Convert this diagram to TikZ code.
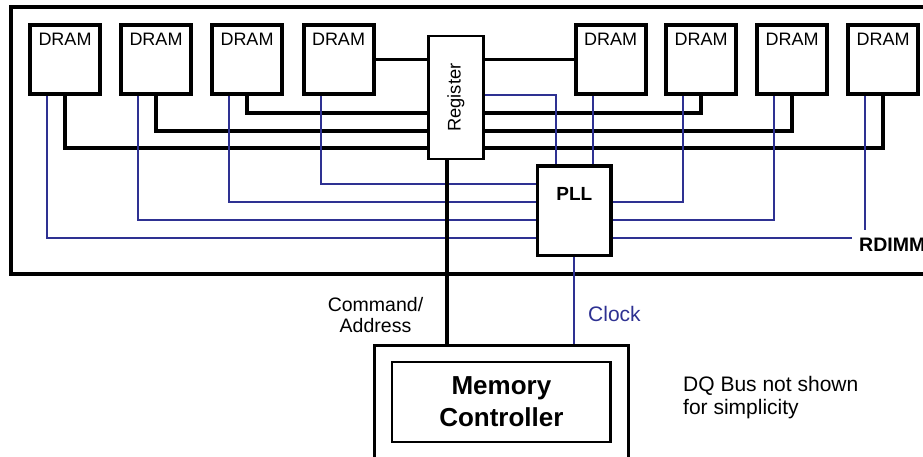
\documentclass[tikz,border=0pt]{standalone}
\usepackage{fontspec}
\setmainfont{Liberation Sans}
\usepackage{graphicx}
\usepackage{tikz}
\definecolor{clkblue}{HTML}{2E3192}

\begin{document}
\begin{tikzpicture}[x=1pt,y=-1pt,
  dram/.style={draw,line width=4pt,minimum width=70pt,inner xsep=0pt,inner ysep=7.6pt,
    text height=13pt,text depth=41.4pt,font=\fontsize{18}{20}\selectfont},
  bus/.style={line width=3.5pt},
  clk/.style={clkblue,line width=2pt}]
\useasboundingbox (0,0) rectangle (923,456);
\clip (0,0) rectangle (923,456);
% module outline
\draw[line width=4pt] (11.3,6.5) rectangle (940,274);
% signal rows
\coordinate (ra) at (0,113);
\coordinate (rb) at (0,131);
\coordinate (rc) at (0,148);
\coordinate (ka) at (0,184);
\coordinate (kb) at (0,202);
\coordinate (kc) at (0,220);
\coordinate (kd) at (0,237.5);
\foreach \i/\x in {1/65,2/156,3/247,4/338.5,5/610.5,6/701,7/792,8/883} {
  \node[dram] (d\i) at (\x,59.5) {DRAM};
  \coordinate (k\i) at ([xshift=-18pt]d\i.south);
}
\node[draw,line width=2.5pt,minimum width=54.7pt,minimum height=122.8pt,inner sep=0pt,
  font=\fontsize{18.3}{20}\selectfont] (reg) at (456,97.6) {\rotatebox{90}{Register}};
\node[draw,line width=3.3pt,minimum width=73.3pt,inner ysep=8pt,text height=27pt,text depth=46.7pt,
  font=\fontsize{19}{21}\selectfont\bfseries] (pll) at (574.3,210.8) {PLL};
\node[anchor=base west,inner sep=7pt,font=\fontsize{19.5}{21}\selectfont\bfseries] (rdimm) at (852,251) {RDIMM};
% command/address fan-out
\draw[bus] (d4.east) -- (reg.west |- d4.east);
\draw[bus] (reg.east |- d5.west) -- (d5.west);
\foreach \d/\r in {3/ra,2/rb,1/rc} \draw[bus] (d\d.south) |- (reg.west |- \r);
\foreach \d/\r in {6/ra,7/rb,8/rc} \draw[bus] (reg.east |- \r) -| (d\d.south);
% clock fan-out
\foreach \d/\r in {4/ka,3/kb,2/kc,1/kd} \draw[clk] (k\d) |- (pll.west |- \r);
\foreach \d/\r in {6/kb,7/kc} \draw[clk] (pll.east |- \r) -| (k\d);
\draw[clk] ([yshift=2.5pt]reg.east) -| ([xshift=-18pt]pll.north);
\draw[clk] (k5) -- (k5 |- pll.north);
\draw[clk] (k8) -- (k8 |- rdimm.north);
\draw[clk] (pll.east |- kd) -- (rdimm.west |- kd);
% controller
\node[draw,line width=2.2pt,minimum width=254pt,minimum height=124.5pt] (mc) at (501.5,407.75) {};
\node[draw,line width=2.2pt,minimum width=218.3pt,minimum height=80.4pt,align=center,
  font=\fontsize{26}{32}\selectfont\bfseries] (mctext) at (501.4,402) {Memory\\Controller};
\coordinate (ca) at ([xshift=-9pt]reg.south);
\draw[bus] (ca) -- (ca |- mc.north);
\draw[clk] (pll.south) -- (pll.south |- mc.north);
\node[align=center,font=\fontsize{19.5}{21}\selectfont] (cmd) at (375.5,315) {Command/\\Address};
\node[anchor=base west,inner sep=0pt,text=clkblue,font=\fontsize{21}{24}\selectfont] (clklab) at (588,321.7) {Clock};
\node[anchor=west,inner sep=0pt,align=left,font=\fontsize{21}{23}\selectfont] (dq) at (683,398) {DQ Bus not shown\\for simplicity};
\end{tikzpicture}
\end{document}
